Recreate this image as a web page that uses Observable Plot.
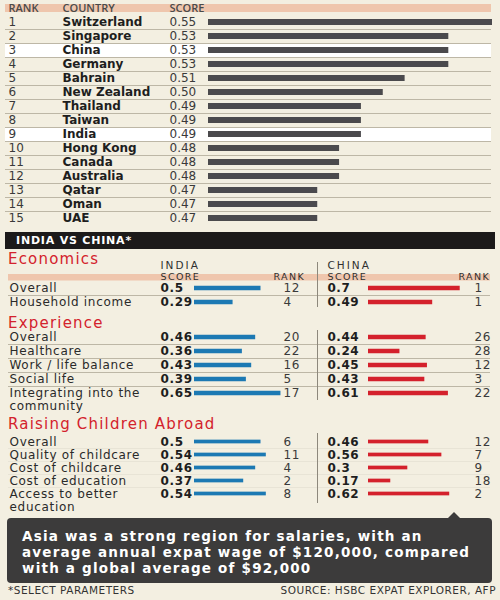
<!DOCTYPE html>
<html><head><meta charset="utf-8">
<script src="https://cdn.jsdelivr.net/npm/d3@7"></script>
<script src="https://cdn.jsdelivr.net/npm/@observablehq/plot@0.6"></script>
<style>
html,body{margin:0;padding:0;background:#f3efe1;}
#root{position:relative;width:500px;height:600px;background:#f3efe1;font-family:"DejaVu Sans",sans-serif;overflow:hidden;}
.abs{position:absolute;}
.band{left:5px;top:232px;width:490px;height:17px;background:#1c1a1a;color:#fff;font-weight:700;font-size:11px;line-height:17px;letter-spacing:0.8px;padding-left:11px;box-sizing:border-box;}
.head{color:#d3222c;font-size:15px;line-height:15px;letter-spacing:1.2px;left:8px;}
.cap{left:7px;top:518px;width:485px;height:65px;background:#3c3b3b;border-radius:4px;color:#fff;font-weight:700;font-size:13.5px;line-height:16px;letter-spacing:1.2px;padding:10px 0 0 15px;box-sizing:border-box;white-space:nowrap;}
.notch{left:447px;top:512px;width:0;height:0;border-left:7px solid transparent;border-right:7px solid transparent;border-bottom:7px solid #3c3b3b;}
.foot{top:585px;font-size:10.5px;line-height:10.5px;color:#333;letter-spacing:0.5px;}
</style></head>
<body><div id="root"></div>
<script>
// ---- Data: top ranking ----
const ranks = [1,2,3,4,5,6,7,8,9,10,11,12,13,14,15];
const countries = ["Switzerland","Singapore","China","Germany","Bahrain","New Zealand","Thailand","Taiwan","India","Hong Kong","Canada","Australia","Qatar","Oman","UAE"];
const scores = [0.55,0.53,0.53,0.53,0.51,0.50,0.49,0.49,0.49,0.48,0.48,0.48,0.47,0.47,0.47];
const highlighted = ["China","India"];
const rankHeaders = ["RANK","COUNTRY","SCORE"];

// ---- Data: India vs China ----
const econItems = ["Overall","Household income"];
const econIndiaScore = [0.5,0.29];
const econIndiaRank = [12,4];
const econChinaScore = [0.7,0.49];
const econChinaRank = [1,1];

const expItems = ["Overall","Healthcare","Work / life balance","Social life","Integrating into the\ncommunity"];
const expIndiaScore = [0.46,0.36,0.43,0.39,0.65];
const expIndiaRank = [20,22,16,5,17];
const expChinaScore = [0.44,0.24,0.45,0.43,0.61];
const expChinaRank = [26,28,12,3,22];

const kidsItems = ["Overall","Quality of childcare","Cost of childcare","Cost of education","Access to better\neducation"];
const kidsIndiaScore = [0.5,0.54,0.46,0.37,0.54];
const kidsIndiaRank = [6,11,4,2,8];
const kidsChinaScore = [0.46,0.56,0.3,0.17,0.62];
const kidsChinaRank = [12,7,9,18,2];

const sectionTitles = ["Economics","Experience","Raising Children Abroad"];
const bandTitle = "INDIA VS CHINA*";
const captionLines = ["Asia was a strong region for salaries, with an","average annual expat wage of $120,000, compared","with a global average of $92,000"];
const footLeft = "*SELECT PARAMETERS";
const footRight = "SOURCE: HSBC EXPAT EXPLORER, AFP";

// ---- Styling ----
const SALMON = "#efc6ad", SEP = "#bdb7a6", TXT = "#2a2a2a", BAR = "#4b4a4d", BLUE = "#1c79b3", RED = "#d4212c";
const HDR = "__hdr";
const FONT = "DejaVu Sans";
const HFONT = "Open Sans";
const root = document.getElementById("root");
function place(el, left, top) {
  const w = document.createElement("div");
  w.style.cssText = `position:absolute;left:${left}px;top:${top}px;`;
  w.appendChild(el);
  root.appendChild(w);
}
function div(cls, html) {
  const d = document.createElement("div");
  d.className = "abs " + cls;
  d.innerHTML = html;
  root.appendChild(d);
  return d;
}

// ---- Top ranking plot ----
const rankRows = countries.map((c, i) => ({rank: ranks[i], country: c, score: scores[i]}));
const hdrTop = {fontFamily: HFONT, fontSize: 11, fontWeight: 600, fill: "#4a4a4a"};
const topPlot = Plot.plot({
  width: 500, height: 228,
  marginLeft: 5, marginRight: 9, marginTop: 0, marginBottom: 0,
  x: {domain: [0.42, 0.55], range: [208, 492], axis: null},
  y: {domain: [HDR, ...countries], range: [1, 225], padding: 0, axis: null},
  style: {background: "transparent", fontFamily: FONT, overflow: "visible"},
  marks: [
    Plot.cell([HDR], {y: d => d, fill: SALMON, insetTop: 3, insetBottom: 3}),
    Plot.cell(highlighted, {y: d => d, fill: "#ffffff"}),
    Plot.cell(countries.slice(1), {y: d => d, fill: SEP, insetBottom: 13}),
    Plot.barX(rankRows, {y: "country", x1: 0.42, x2: "score", fill: BAR, insetTop: 4, insetBottom: 4}),
    Plot.text([rankHeaders[0]], {y: () => HDR, text: d => d, frameAnchor: "left", dx: 3, ...hdrTop}),
    Plot.text([rankHeaders[1]], {y: () => HDR, text: d => d, frameAnchor: "left", dx: 57, ...hdrTop}),
    Plot.text([rankHeaders[2]], {y: () => HDR, text: d => d, frameAnchor: "left", dx: 164, ...hdrTop}),
    Plot.text(rankRows, {y: "country", text: "rank", frameAnchor: "left", dx: 3, fontSize: 12, fill: "#3a3a3a"}),
    Plot.text(rankRows, {y: "country", text: "country", frameAnchor: "left", dx: 57, fontSize: 12, fontWeight: 700, fill: "#1e1e1e"}),
    Plot.text(rankRows, {y: "country", text: d => d.score.toFixed(2), frameAnchor: "left", dx: 164, fontSize: 12, fill: "#3a3a3a"})
  ]
});
place(topPlot, 0, 0);

// ---- Band + headings ----
div("band", bandTitle);
div("head", sectionTitles[0]).style.top = "251.6px";
div("head", sectionTitles[1]).style.top = "315.8px";
div("head", sectionTitles[2]).style.top = "417.3px";

// ---- India vs China sections ----
function section(o) {
  const rows = o.items.map((it, i) => ({
    item: it, label: it.split("\n")[0], label2: it.split("\n")[1] || null,
    iScore: o.iScore[i], iRank: o.iRank[i], cScore: o.cScore[i], cRank: o.cRank[i]
  }));
  const domain = o.header ? [HDR, ...o.items] : o.items;
  const bw = (o.yRange[1] - o.yRange[0]) / domain.length;
  const inset = (bw - 4.5) / 2;
  const st = {background: "transparent", fontFamily: FONT, overflow: "visible"};
  const hdrOpts = {fontFamily: FONT, fontSize: 9.5, fill: "#2f2f2f"};
  const titleOpts = {fontFamily: FONT, fontSize: 10.5, fill: "#2f2f2f"};
  const labelOpts = {frameAnchor: "left", dx: 1, fontSize: 12, fill: TXT};
  const left = Plot.plot({
    width: 318, height: o.leftH, marginLeft: 8, marginRight: 0, marginTop: 0, marginBottom: 0,
    x: {domain: [0, 1], range: [194, 327], axis: null},
    y: {domain, range: o.yRange, padding: 0, axis: null},
    style: st,
    marks: [
      ...(o.header ? [
        Plot.cell([HDR], {y: d => d, fill: SALMON, insetTop: 7, insetBottom: 0.5}),
        Plot.text(["INDIA"], {y: () => HDR, text: d => d, frameAnchor: "left", dx: 152, dy: -8.5, ...titleOpts}),
        Plot.text(["SCORE"], {y: () => HDR, text: d => d, frameAnchor: "left", dx: 152, dy: 2.5, ...hdrOpts}),
        Plot.text(["RANK"], {y: () => HDR, text: d => d, frameAnchor: "left", dx: 265, dy: 2.5, ...hdrOpts})
      ] : []),
      Plot.cell(o.items.slice(1), {y: d => d, fill: SEP, insetBottom: bw - 1}),
      Plot.text(rows, {y: "item", text: "label", ...labelOpts}),
      Plot.text(rows.filter(r => r.label2), {y: "item", text: "label2", dy: 13, ...labelOpts}),
      Plot.text(rows, {y: "item", text: d => String(d.iScore), frameAnchor: "left", dx: 152, fontSize: 12, fontWeight: 700, fill: "#1e1e1e"}),
      Plot.barX(rows, {y: "item", x1: 0, x2: "iScore", fill: BLUE, insetTop: inset, insetBottom: inset}),
      Plot.text(rows, {y: "item", text: "iRank", frameAnchor: "left", dx: 275, fontSize: 12, fill: "#3a3a3a"})
    ]
  });
  left.style.letterSpacing = "0.7px";
  place(left, 0, o.top);
  const right = Plot.plot({
    width: 182, height: o.rightH, marginLeft: 0, marginRight: 10, marginTop: 0, marginBottom: 0,
    x: {domain: [0, 1], range: [50, 181], axis: null},
    y: {domain, range: o.yRange, padding: 0, axis: null},
    style: {...st, borderLeft: "1px solid #8d887c"},
    marks: [
      ...(o.header ? [
        Plot.cell([HDR], {y: d => d, fill: SALMON, insetTop: 7, insetBottom: 0.5}),
        Plot.text(["CHINA"], {y: () => HDR, text: d => d, frameAnchor: "left", dx: 9, dy: -8.5, ...titleOpts}),
        Plot.text(["SCORE"], {y: () => HDR, text: d => d, frameAnchor: "left", dx: 9, dy: 2.5, ...hdrOpts}),
        Plot.text(["RANK"], {y: () => HDR, text: d => d, frameAnchor: "left", dx: 140, dy: 2.5, ...hdrOpts})
      ] : []),
      Plot.cell(o.items.slice(1), {y: d => d, fill: SEP, insetBottom: bw - 1}),
      Plot.text(rows, {y: "item", text: d => String(d.cScore), frameAnchor: "left", dx: 9, fontSize: 12, fontWeight: 700, fill: "#1e1e1e"}),
      Plot.barX(rows, {y: "item", x1: 0, x2: "cScore", fill: RED, insetTop: inset, insetBottom: inset}),
      Plot.text(rows, {y: "item", text: "cRank", frameAnchor: "left", dx: 156, fontSize: 12, fill: "#3a3a3a"})
    ]
  });
  right.style.letterSpacing = "0.5px";
  place(right, 317, o.top);
  // wider tracking for the small column headers
  for (const svg of [left, right]) {
    svg.querySelectorAll("text").forEach(t => {
      if (["INDIA", "CHINA"].includes(t.textContent)) t.setAttribute("letter-spacing", "2");
      if (["SCORE", "RANK"].includes(t.textContent)) t.setAttribute("letter-spacing", "1.4");
    });
  }
}

section({items: econItems, iScore: econIndiaScore, iRank: econIndiaRank, cScore: econChinaScore, cRank: econChinaRank,
  top: 262, yRange: [5, 47], leftH: 48, rightH: 45, header: true});
section({items: expItems, iScore: expIndiaScore, iRank: expIndiaRank, cScore: expChinaScore, cRank: expChinaRank,
  top: 330, yRange: [0, 70], leftH: 80, rightH: 70, header: false});
section({items: kidsItems, iScore: kidsIndiaScore, iRank: kidsIndiaRank, cScore: kidsChinaScore, cRank: kidsChinaRank,
  top: 433, yRange: [0, 69], leftH: 80, rightH: 70, header: false});

// ---- Caption + footer ----
div("notch", "");
div("cap", captionLines.join("<br>"));
const fl = div("foot", footLeft); fl.style.left = "8px";
const fr = div("foot", footRight); fr.style.right = "4px";
</script>
</body></html>
